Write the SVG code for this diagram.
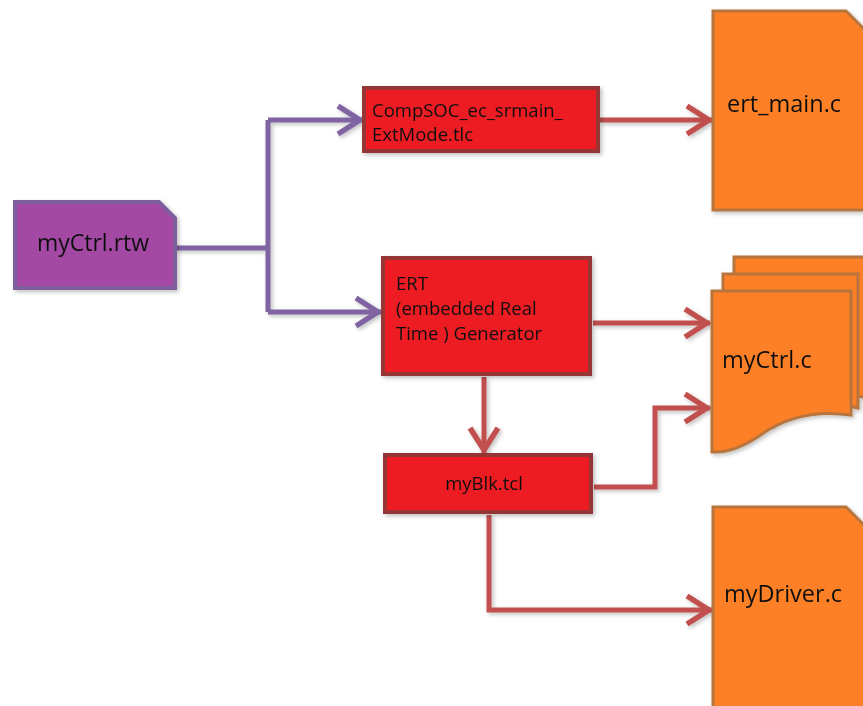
<svg xmlns="http://www.w3.org/2000/svg" width="863" height="706" viewBox="0 0 863 706">
<style>
text{font-family:"Open Sans","Noto Sans","Liberation Sans",sans-serif;fill:#111}
.doc{fill:#fd7f25;stroke:#b8753d;stroke-width:3}
.red{fill:#ed1c24;stroke:#963634;stroke-width:4}
.pc{fill:none;stroke:#8064a2;stroke-width:5}
.rc{fill:none;stroke:#c0504d;stroke-width:5}
.sh{filter:url(#shadow)}
</style>
<defs>
<filter id="shadow" x="-10%" y="-10%" width="130%" height="130%"><feDropShadow dx="2" dy="2" stdDeviation="2" flood-color="#000" flood-opacity="0.25"/></filter>
<marker id="ap" viewBox="-30 -18 32 36" refX="0" refY="0" markerWidth="32" markerHeight="36" markerUnits="userSpaceOnUse" orient="auto"><path d="M-25,-14 L-3,0 L-25,14" fill="none" stroke="#8064a2" stroke-width="5.5"/></marker>
<marker id="ar" viewBox="-30 -18 32 36" refX="0" refY="0" markerWidth="32" markerHeight="36" markerUnits="userSpaceOnUse" orient="auto"><path d="M-25,-14 L-3,0 L-25,14" fill="none" stroke="#c0504d" stroke-width="5.5"/></marker>
</defs>
<g id="connectors" class="sh">
<path class="pc" d="M175,248 H268"/>
<path class="pc" d="M268,120 V312"/>
<path class="pc" d="M268,120 H363" marker-end="url(#ap)"/>
<path class="pc" d="M268,312 H381" marker-end="url(#ap)"/>
<path class="rc" d="M599,120 H712" marker-end="url(#ar)"/>
<path class="rc" d="M593,323 H710" marker-end="url(#ar)"/>
<path class="rc" d="M484,377 V453" marker-end="url(#ar)"/>
<path class="rc" d="M594,487 H655 V408 H710" marker-end="url(#ar)"/>
<path class="rc" d="M489,515 V610 H712" marker-end="url(#ar)"/>
</g>
<g id="myCtrl_rtw" class="sh">
<path d="M15,202 H159 L175,218 V288 H15 Z" fill="#a349a4" stroke="#7b5e9c" stroke-width="4"/>
<text x="93" y="251" font-size="23" text-anchor="middle">myCtrl.rtw</text>
</g>
<g id="compsoc" class="sh">
<rect class="red" x="364" y="88" width="234" height="63"/>
<text x="372" y="117" font-size="18.5">CompSOC_ec_srmain_</text>
<text x="372" y="141" font-size="18.5">ExtMode.tlc</text>
</g>
<g id="ert" class="sh">
<rect class="red" x="383" y="258" width="207" height="116"/>
<text x="396" y="290" font-size="18.5">ERT</text>
<text x="396" y="315" font-size="18.5">(embedded Real</text>
<text x="396" y="340" font-size="18.5">Time ) Generator</text>
</g>
<g id="myblk" class="sh">
<rect class="red" x="385" y="455" width="206" height="57"/>
<text x="484" y="490" font-size="18.5" text-anchor="middle">myBlk.tcl</text>
</g>
<g id="ert_main" class="sh">
<path class="doc" d="M713,11 H846 L866,31 V210 H713 Z"/>
<text x="727" y="112" font-size="23.5">ert_main.c</text>
</g>
<g id="myCtrl_c" class="sh">
<path class="doc" d="M734,257 H870 V398 C830,392 800,390 780,394 L734,398 Z"/>
<path class="doc" d="M723,274 H858 V408 C830,402 800,402 770,409 C750,414 735,414 723,412 Z"/>
<path class="doc" d="M712,291 H851 V415 C815,410 785,418 762,434 C742,448 727,453 712,452 Z"/>
<text x="722" y="368" font-size="23.5">myCtrl.c</text>
</g>
<g id="myDriver" class="sh">
<path class="doc" d="M713,507 H846 L866,527 V710 H713 Z"/>
<text x="724" y="602" font-size="23.5">myDriver.c</text>
</g>
</svg>
